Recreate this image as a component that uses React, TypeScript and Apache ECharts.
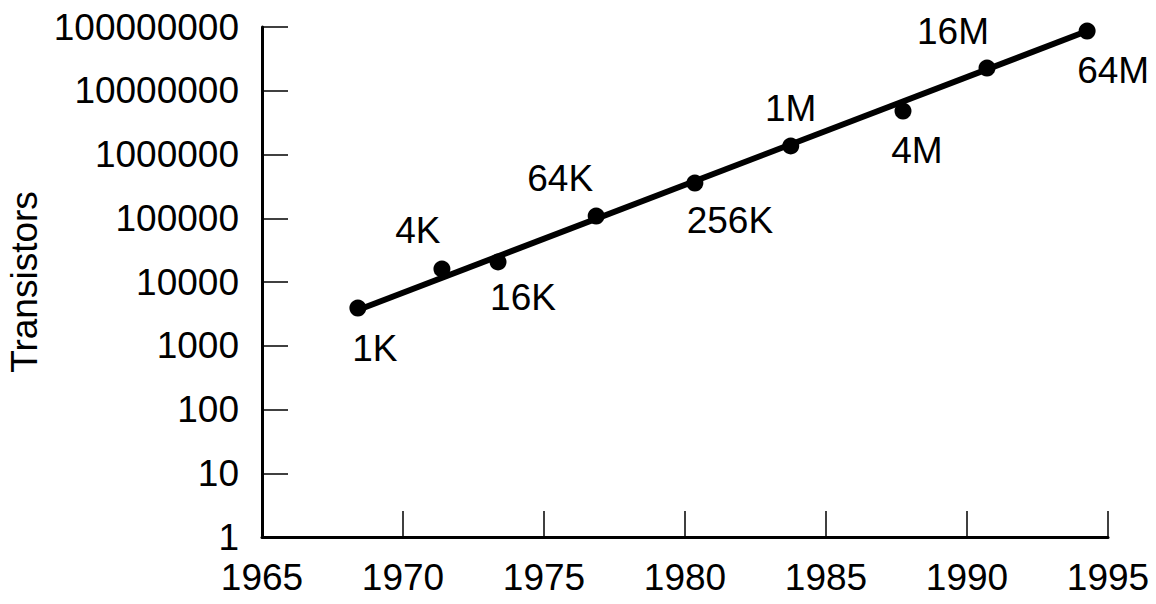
import React, { useEffect, useRef } from "react";
import * as echarts from "echarts";

const years = [1968.4, 1971.38, 1973.37, 1976.85, 1980.35, 1983.75, 1987.73, 1990.71, 1994.26];
const transistors = [3900, 16000, 20600, 108000, 357000, 1360000, 4800000, 22700000, 86500000];
const chipLabels = ["1K", "4K", "16K", "64K", "256K", "1M", "4M", "16M", "64M"];
const trendYears = [1968.4, 1994.26];
const trendValues = [3640, 86500000];
const xTickValues = [1965, 1970, 1975, 1980, 1985, 1990, 1995];
const yTickLabels = ["1", "10", "100", "1000", "10000", "100000", "1000000", "10000000", "100000000"];

// label offsets (px) relative to each marker centre
const labelOffsets: [number, number][] = [
  [17, 40], [-24, -38], [25, 36], [-36, -38], [35, 37], [0, -37], [14, 39], [-34, -37], [26, 39],
];

const FONT = "'Liberation Sans', Arial, Helvetica, sans-serif";
const FS = 37;

export default function App() {
  const ref = useRef<HTMLDivElement>(null);
  useEffect(() => {
    if (!ref.current) return;
    const chart = echarts.init(ref.current, undefined, { renderer: "svg" });
    const points = years.map((y, i) => ({
      value: [y, transistors[i]],
      name: chipLabels[i],
      label: { offset: labelOffsets[i] },
    }));
    chart.setOption({
      animation: false,
      backgroundColor: "#ffffff",
      textStyle: { fontFamily: FONT },
      grid: { left: 262, right: 48, top: 27, bottom: 67, containLabel: false, outerBoundsMode: "none" },
      xAxis: {
        type: "value",
        min: xTickValues[0],
        max: xTickValues[xTickValues.length - 1],
        interval: 5,
        axisLine: { show: true, lineStyle: { color: "#000", width: 3 } },
        axisTick: { show: true, inside: true, length: 26, lineStyle: { color: "#000", width: 1.5 } },
        axisLabel: { color: "#000", fontSize: FS, fontFamily: FONT, margin: 22, formatter: (v: number) => String(Math.round(v)) },
        splitLine: { show: false },
      },
      yAxis: {
        type: "log",
        logBase: 10,
        min: 1,
        max: 100000000,
        name: "Transistors",
        nameLocation: "middle",
        nameRotate: 90,
        nameGap: 213,
        nameTextStyle: { color: "#000", fontSize: FS, fontFamily: FONT },
        axisLine: { show: true, lineStyle: { color: "#000", width: 3 } },
        axisTick: { show: true, inside: true, length: 26, lineStyle: { color: "#000", width: 1.5 } },
        axisLabel: {
          color: "#000",
          fontSize: FS,
          fontFamily: FONT,
          margin: 23,
          formatter: (v: number) => {
            const idx = Math.round(Math.log10(v));
            return yTickLabels[idx] ?? String(Math.round(v));
          },
        },
        splitLine: { show: false },
      },
      series: [
        {
          type: "line",
          data: trendYears.map((y, i) => [y, trendValues[i]]),
          symbol: "none",
          lineStyle: { color: "#000", width: 6 },
          z: 2,
          silent: true,
        },
        {
          type: "scatter",
          data: points,
          symbol: "circle",
          symbolSize: 17,
          itemStyle: { color: "#000", opacity: 1 },
          z: 3,
          label: {
            show: true,
            position: "inside",
            formatter: (p: any) => p.name,
            color: "#000",
            opacity: 1,
            fontSize: FS,
            fontFamily: FONT,
            align: "center",
            verticalAlign: "middle",
          },
        },
      ],
    });
    return () => chart.dispose();
  }, []);
  return (
    <div
      ref={ref}
      style={{ position: "fixed", left: 0, top: 0, width: 1156, height: 604, background: "#fff" }}
    />
  );
}
